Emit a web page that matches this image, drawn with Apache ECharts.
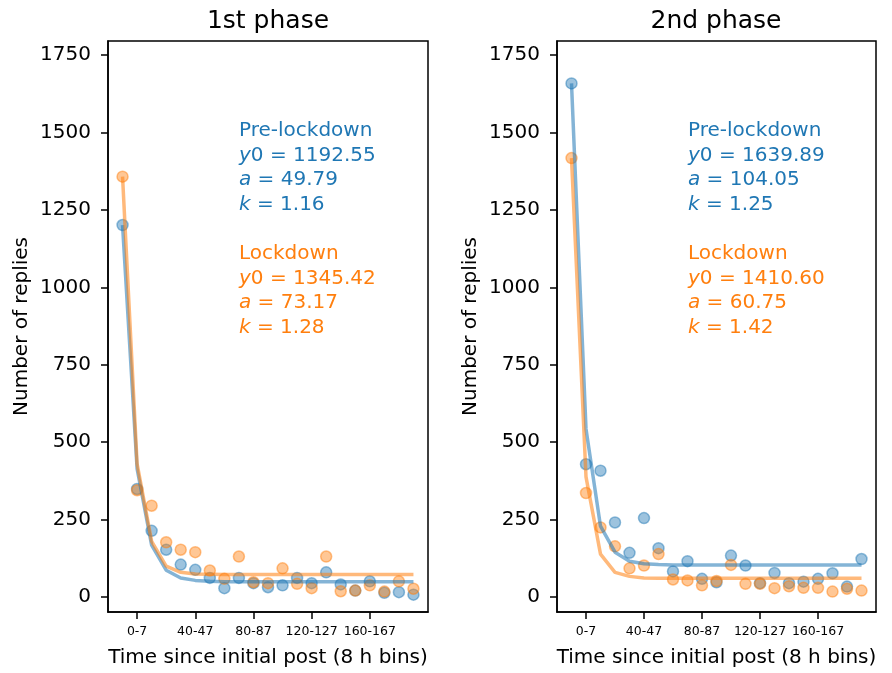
<!DOCTYPE html>
<html style="height: 100%">
<head>
    <meta charset="utf-8">
    <title>Replies decay</title>
</head>
<body style="margin: 0">
<div id="container" style="width: 892px; height: 673px"></div>

<script src="https://cdn.jsdelivr.net/npm/echarts@6.0.0/dist/echarts.min.js" type="text/javascript"></script>

<script type="text/javascript">

    // bin index of every point (8 h bins)
    var binIndex = [0, 1, 2, 3, 4, 5, 6, 7, 8, 9, 10, 11, 12, 13, 14, 15, 16, 17, 18, 19, 20];
    var xTickPos = [1, 5, 9, 13, 17];
    var xTickLabels = ['0-7', '40-47', '80-87', '120-127', '160-167'];
    var yTicks = [0, 250, 500, 750, 1000, 1250, 1500, 1750];

    // 1st phase
    var p1PreDots = [1201, 349, 214, 153, 105, 88, 62, 29, 62, 45, 32, 38, 62, 45, 80, 41, 21, 51, 14, 16, 8];
    var p1LockDots = [1357, 345, 295, 177, 153, 145, 86, 59, 131, 48, 45, 93, 43, 29, 131, 19, 21, 38, 18, 51, 27];
    var p1PreFit = [1201, 415, 168, 87, 62, 54, 51, 50, 50, 50, 50, 50, 50, 50, 50, 50, 50, 50, 50, 50, 50];
    var p1LockFit = [1357, 430, 180, 100, 80, 75, 74, 73, 73, 73, 73, 73, 73, 73, 73, 73, 73, 73, 73, 73, 73];

    // 2nd phase
    var p2PreDots = [1658, 429, 408, 241, 143, 255, 158, 83, 116, 59, 48, 134, 102, 45, 78, 45, 50, 59, 77, 34, 123];
    var p2LockDots = [1417, 336, 225, 164, 93, 102, 139, 57, 54, 38, 52, 104, 43, 43, 29, 35, 30, 30, 18, 27, 21];
    var p2PreFit = [1658, 543, 229, 145, 116, 108, 105, 104, 104, 104, 104, 104, 104, 104, 104, 104, 104, 104, 104, 104, 104];
    var p2LockFit = [1417, 388, 139, 80, 67, 62, 61, 61, 61, 61, 61, 61, 61, 61, 61, 61, 61, 61, 61, 61, 61];

    var p1Params = {pre: ['1192.55', '49.79', '1.16'], lock: ['1345.42', '73.17', '1.28']};
    var p2Params = {pre: ['1639.89', '104.05', '1.25'], lock: ['1410.60', '60.75', '1.42']};

    var BLUE = '#1f77b4', ORANGE = '#ff7f0e';
    var FONT = 'DejaVu Sans';

    var dom = document.getElementById("container");
    var myChart = echarts.init(dom);

    function pairs(vals) {
        return binIndex.map(function (x, i) { return [x, vals[i]]; });
    }

    function dots(idx, vals, rgb) {
        return {
            type: 'scatter', xAxisIndex: idx, yAxisIndex: idx,
            data: pairs(vals), symbolSize: 11,
            itemStyle: {color: 'rgba(' + rgb + ',0.55)', borderColor: 'rgba(' + rgb + ',0.6)', borderWidth: 1.5},
            silent: true
        };
    }

    function fit(idx, vals, rgb) {
        return {
            type: 'line', xAxisIndex: idx, yAxisIndex: idx,
            data: pairs(vals), showSymbol: false, symbol: 'none',
            lineStyle: {color: 'rgba(' + rgb + ',0.55)', width: 3.5},
            silent: true
        };
    }

    function xAx(idx) {
        return {
            type: 'value', gridIndex: idx, min: -1, max: 21,
            name: 'Time since initial post (8 h bins)', nameLocation: 'middle', nameGap: 36,
            nameTextStyle: {fontFamily: FONT, fontSize: 20, color: '#000'},
            splitLine: {show: false},
            axisLine: {onZero: false, lineStyle: {color: '#000', width: 1.5}},
            axisTick: {customValues: xTickPos, length: 7, lineStyle: {width: 1.5, color: '#000'}},
            axisLabel: {
                customValues: xTickPos, margin: 13, fontFamily: FONT, fontSize: 12.5, color: '#000',
                formatter: function (v) { return xTickLabels[xTickPos.indexOf(v)]; }
            }
        };
    }

    function yAx(idx) {
        return {
            type: 'value', gridIndex: idx, min: -48, max: 1795,
            name: 'Number of replies', nameLocation: 'middle', nameGap: 76, nameRotate: 90,
            nameTextStyle: {fontFamily: FONT, fontSize: 20, color: '#000'},
            splitLine: {show: false},
            axisLine: {show: true, onZero: false, lineStyle: {color: '#000', width: 1.5}},
            axisTick: {show: true, customValues: yTicks, length: 7, lineStyle: {width: 1.5, color: '#000'}},
            axisLabel: {
                customValues: yTicks, margin: 17, fontFamily: FONT, fontSize: 20, color: '#000',
                formatter: function (v) { return String(v); }
            }
        };
    }

    function noteLines(x, y0, title, p, color) {
        var lines = [
            title,
            '{i|y}0 = ' + p[0],
            '{i|a} = ' + p[1],
            '{i|k} = ' + p[2]
        ];
        return lines.map(function (t, i) {
            return {
                type: 'text', x: x, y: y0 + i * 24.5, silent: true,
                style: {
                    text: t, fill: color, font: '20px "DejaVu Sans"',
                    textVerticalAlign: 'middle',
                    rich: {i: {fontStyle: 'italic', fontFamily: FONT, fontSize: 20, fill: color, color: color}}
                }
            };
        });
    }

    function heading(x, text) {
        return {
            type: 'text', x: x, y: 21, silent: true,
            style: {text: text, fill: '#000', font: '25px "DejaVu Sans"', textAlign: 'center', textVerticalAlign: 'middle'}
        };
    }

    var notes = [].concat(
        noteLines(239, 131, 'Pre-lockdown', p1Params.pre, BLUE),
        noteLines(239, 254, 'Lockdown', p1Params.lock, ORANGE),
        noteLines(688, 131, 'Pre-lockdown', p2Params.pre, BLUE),
        noteLines(688, 254, 'Lockdown', p2Params.lock, ORANGE),
        [heading(268, '1st phase'), heading(716, '2nd phase')]
    );

    var option = {
        animation: false,
        backgroundColor: '#fff',
        grid: [
            {left: 108, top: 41, width: 320, height: 572, show: true, borderColor: '#000', borderWidth: 1.5},
            {left: 557, top: 41, width: 319, height: 572, show: true, borderColor: '#000', borderWidth: 1.5}
        ],
        xAxis: [xAx(0), xAx(1)],
        yAxis: [yAx(0), yAx(1)],
        series: [
            dots(0, p1PreDots, '31,119,180'),
            fit(0, p1PreFit, '31,119,180'),
            dots(0, p1LockDots, '255,127,14'),
            fit(0, p1LockFit, '255,127,14'),
            dots(1, p2PreDots, '31,119,180'),
            fit(1, p2PreFit, '31,119,180'),
            dots(1, p2LockDots, '255,127,14'),
            fit(1, p2LockFit, '255,127,14')
        ],
        graphic: notes
    };

    if (option && typeof option === "object") {
        myChart.setOption(option, true);
    }
</script>
</body>
</html>
